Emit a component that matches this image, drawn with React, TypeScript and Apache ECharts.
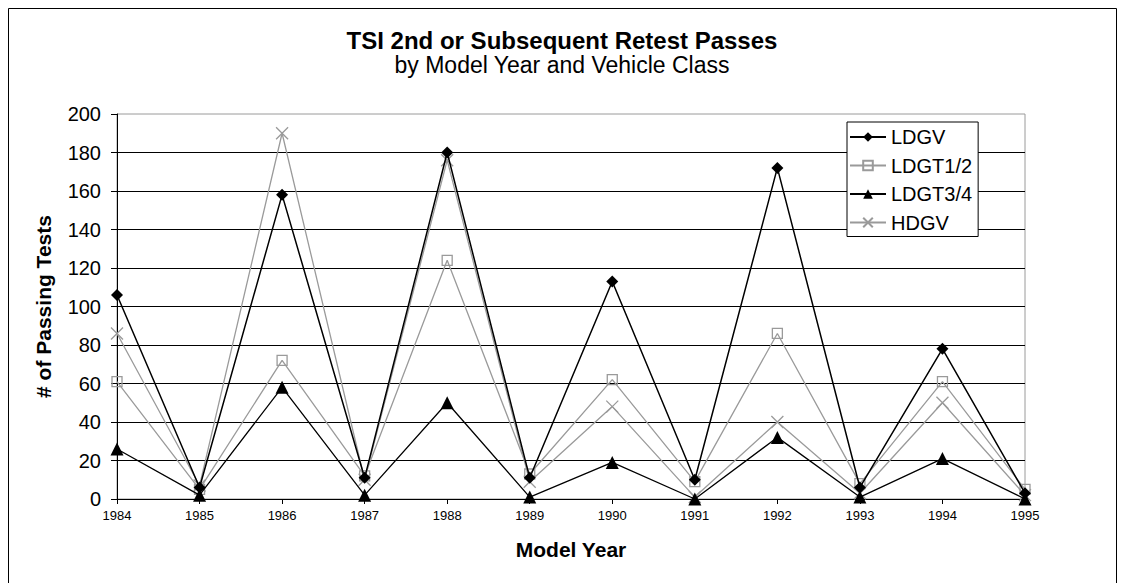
import React, { useEffect, useRef } from "react";
import * as echarts from "echarts";

const years = ["1984", "1985", "1986", "1987", "1988", "1989", "1990", "1991", "1992", "1993", "1994", "1995"];
const ldgv = [106, 6, 158, 11, 180, 11, 113, 10, 172, 6, 78, 3];
const ldgt12 = [61, 5, 72, 12, 124, 13, 62, 9, 86, 8, 61, 5];
const ldgt34 = [26, 2, 58, 2, 50, 1, 19, 0, 32, 1, 21, 0];
const hdgv = [86, 7, 190, 10, 176, 9, 48, 1, 40, 3, 50, 2];

const FONT = "'Liberation Sans', Arial, sans-serif";
const GRAY = "#9a9a9a";

export default function App() {
  const ref = useRef<HTMLDivElement>(null);
  useEffect(() => {
    if (!ref.current) return;
    const chart = echarts.init(ref.current, undefined, { renderer: "svg" });
    chart.setOption({
      animation: false,
      backgroundColor: "#fff",
      textStyle: { fontFamily: FONT },
      title: {
        text: "TSI 2nd or Subsequent Retest Passes",
        subtext: "by Model Year and Vehicle Class",
        left: "center",
        top: 23,
        itemGap: 1,
        textStyle: { fontFamily: FONT, fontSize: 24, fontWeight: "bold", color: "#000" },
        subtextStyle: { fontFamily: FONT, fontSize: 23, color: "#000" },
      },
      graphic: [
        {
          type: "rect",
          shape: { x: 8.5, y: 8.5, width: 1108, height: 600 },
          style: { fill: "none", stroke: "#000", lineWidth: 1 },
          silent: true,
        },
      ],
      legend: {
        orient: "vertical",
        left: 847,
        top: 122,
        padding: [5, 6, 4, 2],
        itemGap: 8.5,
        itemWidth: 36,
        itemHeight: 12,
        borderColor: "#000",
        borderWidth: 1,
        backgroundColor: "#fff",
        textStyle: { fontFamily: FONT, fontSize: 20, color: "#000", lineHeight: 20 },
        data: ["LDGV", "LDGT1/2", "LDGT3/4", "HDGV"],
      },
      grid: {
        left: 117,
        right: 99,
        top: 114,
        bottom: 84,
        show: true,
        borderColor: GRAY,
        borderWidth: 1,
      },
      xAxis: {
        type: "category",
        data: years,
        boundaryGap: false,
        name: "Model Year",
        nameLocation: "middle",
        nameGap: 40,
        nameTextStyle: { fontFamily: FONT, fontSize: 21, fontWeight: "bold", color: "#000" },
        axisLine: { lineStyle: { color: "#000", width: 1 } },
        axisTick: { show: true, inside: false, length: 5, alignWithLabel: true, lineStyle: { color: "#000" } },
        axisLabel: { fontFamily: FONT, fontSize: 13, color: "#000", margin: 10, interval: 0 },
        splitLine: { show: false },
      },
      yAxis: {
        type: "value",
        min: 0,
        max: 200,
        interval: 20,
        name: "# of Passing Tests",
        nameLocation: "middle",
        nameGap: 63,
        nameTextStyle: { fontFamily: FONT, fontSize: 21, fontWeight: "bold", color: "#000" },
        axisLine: { show: true, lineStyle: { color: "#000", width: 1 } },
        axisTick: { show: true, inside: false, length: 6, lineStyle: { color: "#000" } },
        axisLabel: { fontFamily: FONT, fontSize: 20, color: "#000", margin: 16 },
        splitLine: { show: true, showMinLine: false, showMaxLine: false, lineStyle: { color: "#000", width: 1 } },
      },
      series: [
        {
          name: "LDGV",
          type: "line",
          data: ldgv,
          symbol: "diamond",
          symbolSize: [12, 12],
          lineStyle: { color: "#000", width: 1.5 },
          itemStyle: { color: "#000" },
          z: 4,
        },
        {
          name: "LDGT1/2",
          type: "line",
          data: ldgt12,
          symbol: "rect",
          symbolSize: 10,
          lineStyle: { color: GRAY, width: 1.3 },
          itemStyle: { color: "none", borderColor: GRAY, borderWidth: 1.3 },
          z: 3,
        },
        {
          name: "LDGT3/4",
          type: "line",
          data: ldgt34,
          symbol: "triangle",
          symbolSize: 13,
          lineStyle: { color: "#000", width: 1.3 },
          itemStyle: { color: "#000" },
          z: 4,
        },
        {
          name: "HDGV",
          type: "line",
          data: hdgv,
          symbol: "path://M0 0 L10 10 M10 0 L0 10",
          symbolSize: 12,
          lineStyle: { color: GRAY, width: 1.3 },
          itemStyle: { color: "none", borderColor: GRAY, borderWidth: 1.3 },
          z: 3,
        },
      ],
    });
    return () => chart.dispose();
  }, []);
  return (
    <div
      ref={ref}
      style={{ position: "fixed", left: 0, top: 0, width: 1124, height: 583 }}
    />
  );
}
